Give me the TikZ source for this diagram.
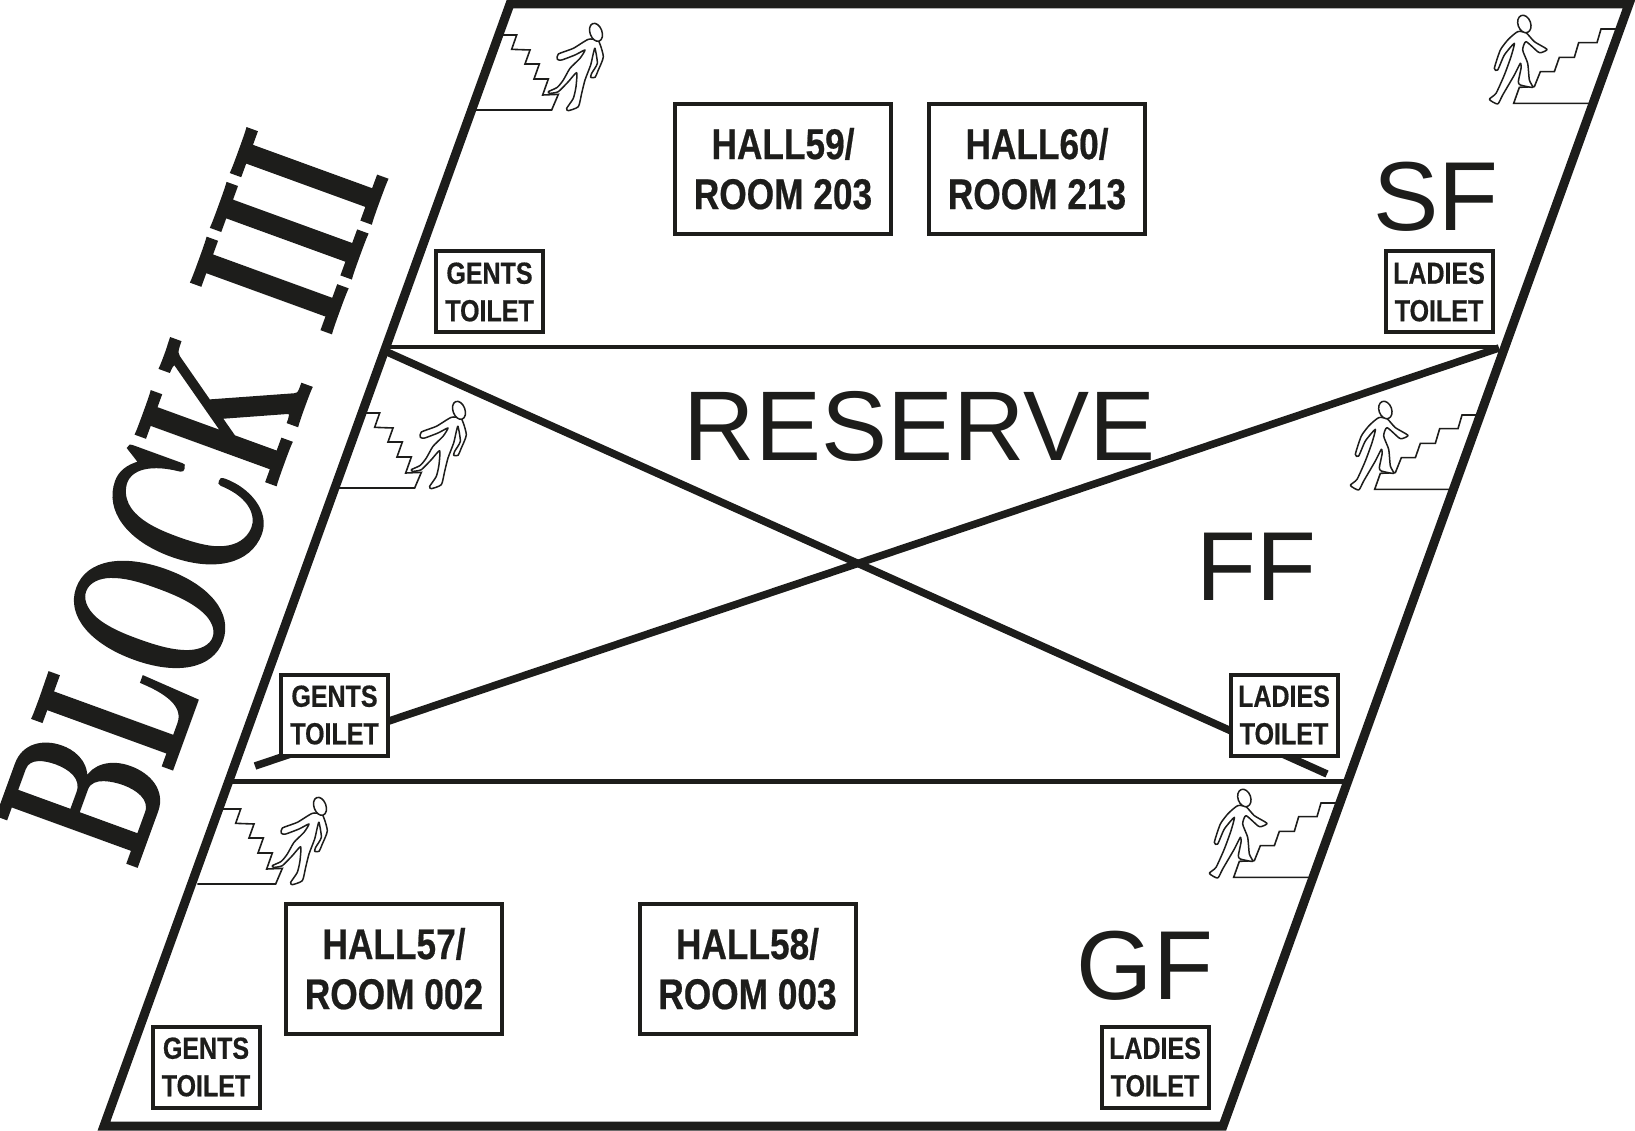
\documentclass[tikz,border=0pt]{standalone}
\usepackage{fontspec}
\setmainfont{Liberation Sans}
\newfontfamily\condfont[FakeStretch=0.82,FakeBold=0.5]{Liberation Sans}
\newfontfamily\blockfont[FakeStretch=0.6,FakeBold=1.3]{Latin Modern Roman}
\definecolor{ink}{HTML}{1D1D1B}
\newcommand{\hallline}[1]{\raisebox{1pt}{#1}}
\tikzset{
  frameline/.style={draw=ink,line width=9pt,miter limit=10},
  floorline/.style={draw=ink,line width=4.5pt},
  crossline/.style={draw=ink,line width=7.5pt},
  stairline/.style={draw=ink,line width=1.6pt,line join=miter},
  figline/.style={draw=ink,line width=1.5pt,line join=round,fill=white},
  hallbox/.style={draw=ink,fill=white,line width=4pt,minimum width=216pt,minimum height=130pt,align=center,inner sep=0pt,text=ink,
    font=\condfont\bfseries\fontsize{43}{50}\selectfont},
  toiletbox/.style={draw=ink,fill=white,line width=4pt,minimum width=107pt,minimum height=81pt,align=center,inner sep=0pt,text=ink,
    font=\condfont\bfseries\fontsize{30.5}{37.5}\selectfont},
  floorlabel/.style={text=ink,inner sep=0pt,anchor=base,font=\fontsize{98}{98}\selectfont},
  goingdown/.pic={
    \begin{scope}[scale=1/3]
    \draw[stairline] (85,105)--(140,105)--(125,148)--(180,150)--(165,192)--(208,192)--(192,237)--(235,237)--(218,285)--(265,283)--(245,330)--(10,330);
    \draw[figline] plot[smooth cycle,tension=0.35] coordinates {
      (355,118)(310,145)(265,162)(262,178)(275,180)(315,165)(345,150)(330,175)(300,205)(280,240)(262,262)(235,275)(240,280)(265,275)(295,245)(320,218)(318,260)(310,295)(290,325)(295,332)(325,320)(335,280)(345,240)(362,195)(370,160)(375,145)(382,190)(365,220)(362,232)(375,232)(385,210)(400,170)(385,122)};
    \draw[figline,rotate around={20:(378,97)}] (378,97) ellipse [x radius=18,y radius=28];
    \end{scope}
  },
  goingup/.pic={
    \begin{scope}[scale=1/3]
    \draw[stairline] (365,310)--(128,310)--(145,262)--(190,260)--(208,215)--(250,215)--(265,172)--(310,172)--(323,128)--(378,128)--(390,87)--(440,87);
    \draw[figline] plot[smooth cycle,tension=0.35] coordinates {
      (140,95)(112,118)(88,150)(70,205)(80,210)(100,165)(130,130)(120,170)(100,225)(75,280)(55,298)(80,312)(95,285)(130,225)(148,190)(150,205)(142,245)(148,255)(185,262)(175,240)(170,190)(155,150)(165,125)(200,155)(210,158)(228,148)(190,125)(165,98)};
    \draw[figline,rotate around={20:(160,72)}] (160,72) ellipse [x radius=19,y radius=27];
    \end{scope}
  }
}
\begin{document}
\begin{tikzpicture}[x=1pt,y=-1pt]
\useasboundingbox (0,0) rectangle (1635,1131);
% frame
\coordinate (ftl) at (510,4);
\coordinate (ftr) at (1629,4);
\coordinate (fbr) at (1223,1126);
\coordinate (fbl) at (104,1126);
% stairs
\pic at (470,0) {goingdown};
\pic at (333,378) {goingdown};
\pic at (194,774) {goingdown};
\pic at (1471,0) {goingup};
\pic at (1332,386) {goingup};
\pic at (1191,774) {goingup};
% floor lines
\coordinate (s1) at (386,347);
\coordinate (e1) at (1498,347);
\coordinate (s2) at (231,781.5);
\coordinate (e2) at (1348,781.5);
\draw[floorline] (s1) -- (e1);
\draw[floorline] (s2) -- (e2);
% cross
\coordinate (xa) at (387,352);
\coordinate (xb) at (1327,774);
\coordinate (xc) at (1499,348);
\coordinate (xd) at (255,766);
\draw[crossline] (xa) -- (xb);
\draw[crossline] (xc) -- (xd);
\draw[frameline] (ftl) -- (ftr) -- (fbr) -- (fbl) -- cycle;
% halls
\node[hallbox] (h59) at (783,169) {\hallline{HALL59/}\\\hallline{ROOM 203}};
\node[hallbox] (h60) at (1037,169) {\hallline{HALL60/}\\\hallline{ROOM 213}};
\node[hallbox] (h57) at (394,969) {\hallline{HALL57/}\\\hallline{ROOM 002}};
\node[hallbox] (h58) at (747.5,969) {\hallline{HALL58/}\\\hallline{ROOM 003}};
% toilets
\node[toiletbox] (g2) at (489.5,292) {GENTS\\TOILET};
\node[toiletbox] (l2) at (1439,292) {LADIES\\TOILET};
\node[toiletbox] (g1) at (334.5,715) {GENTS\\TOILET};
\node[toiletbox] (l1) at (1284,715) {LADIES\\TOILET};
\node[toiletbox] (g0) at (206,1067) {GENTS\\TOILET};
\node[toiletbox] (l0) at (1155,1067) {LADIES\\TOILET};
% floor labels
\node[floorlabel,font=\fontsize{99}{99}\selectfont] (res) at (919.5,460) {RESERVE};
\node[floorlabel] (sf) at (1436,231) {SF};
\node[floorlabel] (ff) at (1256,600) {FF};
\node[floorlabel] (gf) at (1145,999) {GF};
% title
\node[anchor=base west,rotate=70,inner sep=0pt,text=ink,font=\blockfont\bfseries\fontsize{216}{216}\selectfont] (block) at (135,871) {BLOCK III};
\end{tikzpicture}
\end{document}
